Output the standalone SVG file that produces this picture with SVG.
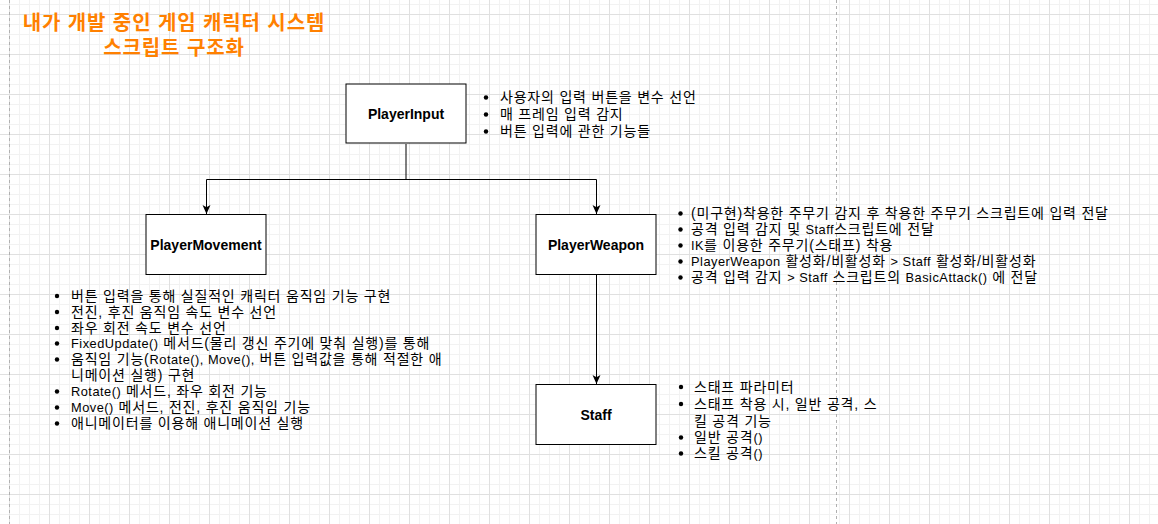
<svg xmlns="http://www.w3.org/2000/svg" width="1158" height="524" viewBox="0 0 1158 524">
<defs>
<pattern id="minor" patternUnits="userSpaceOnUse" x="9" y="14" width="10" height="10">
<path d="M0.5 0V10M0 0.5H10" stroke="#f2f2f2" stroke-width="1" fill="none"/>
</pattern>
<pattern id="major" patternUnits="userSpaceOnUse" x="9" y="14" width="40" height="40">
<path d="M0.5 0V40M0 0.5H40" stroke="#e0e0e0" stroke-width="1" fill="none"/>
</pattern>
<marker id="arr" viewBox="0 0 10 10" refX="10" refY="5" markerWidth="9" markerHeight="9" markerUnits="userSpaceOnUse" orient="auto">
<path d="M10 5L0 0.6L2.4 5L0 9.4Z" fill="#000"/>
</marker>
</defs>
<style>
.box{fill:#fff;stroke:#000;stroke-width:1}
.lbl{font-family:"Liberation Sans","Noto Sans CJK KR",sans-serif;font-size:14px;font-weight:bold;fill:#000;text-anchor:middle}
.txt{font-family:"Liberation Sans","Noto Sans CJK KR",sans-serif;font-size:14px;letter-spacing:0.8px;fill:#000}
.lat{font-size:12.8px;letter-spacing:0.5px}
.ttl{font-family:"Liberation Sans","Noto Sans CJK KR",sans-serif;font-size:20px;font-weight:bold;letter-spacing:0.9px;fill:#FF8000;text-anchor:middle}
.edge{stroke:#000;stroke-width:1;fill:none}
.page{stroke:#b0b0b0;stroke-width:1;stroke-dasharray:3 3}
</style>
<rect width="1158" height="524" fill="#fff"/>
<rect width="1158" height="524" fill="url(#minor)"/>
<rect width="1158" height="524" fill="url(#major)"/>
<line class="page" x1="9.5" y1="0" x2="9.5" y2="524"/>
<line class="page" x1="836.5" y1="0" x2="836.5" y2="524"/>

<g id="title">
<text class="ttl" x="174" y="29.5">내가 개발 중인 게임 캐릭터 시스템</text>
<text class="ttl" x="174" y="54.5">스크립트 구조화</text>
</g>

<g id="connectors">
<path class="edge" d="M406 144V179.5H206.5V214" marker-end="url(#arr)"/>
<path class="edge" d="M406 179.5H596.5V214" marker-end="url(#arr)"/>
<path class="edge" d="M596.5 274.5V384" marker-end="url(#arr)"/>
</g>

<g id="PlayerInput">
<rect class="box" x="346" y="84" width="120" height="59"/>
<text class="lbl" x="406" y="119">PlayerInput</text>
</g>
<g id="PlayerInput-notes">
<circle cx="486" cy="97.5" r="2.2"/><circle cx="486" cy="114.5" r="2.2"/><circle cx="486" cy="131.5" r="2.2"/>
<text class="txt" x="500" y="102">사용자의 입력 버튼을 변수 선언</text>
<text class="txt" x="500" y="119">매 프레임 입력 감지</text>
<text class="txt" x="500" y="136">버튼 입력에 관한 기능들</text>
</g>

<g id="PlayerMovement">
<rect class="box" x="146" y="214.5" width="120" height="60"/>
<text class="lbl" x="206" y="249.5">PlayerMovement</text>
</g>
<g id="PlayerMovement-notes">
<circle cx="57" cy="296" r="2.2"/><circle cx="57" cy="312" r="2.2"/><circle cx="57" cy="328" r="2.2"/>
<circle cx="57" cy="343.5" r="2.2"/><circle cx="57" cy="359.5" r="2.2"/><circle cx="57" cy="391.5" r="2.2"/>
<circle cx="57" cy="407.5" r="2.2"/><circle cx="57" cy="423.5" r="2.2"/>
<text class="txt" x="71" y="300.5">버튼 입력을 통해 실질적인 캐릭터 움직임 기능 구현</text>
<text class="txt" x="71" y="316.5">전진, 후진 움직임 속도 변수 선언</text>
<text class="txt" x="71" y="332.5">좌우 회전 속도 변수 선언</text>
<text class="txt" x="71" y="348"><tspan class="lat">FixedUpdate()</tspan> 메서드(물리 갱신 주기에 맞춰 실행)를 통해</text>
<text class="txt" x="71" y="364">움직임 기능(<tspan class="lat">Rotate(), Move(),</tspan> 버튼 입력값을 통해 적절한 애</text>
<text class="txt" x="71" y="380">니메이션 실행) 구현</text>
<text class="txt" x="71" y="396"><tspan class="lat">Rotate()</tspan> 메서드, 좌우 회전 기능</text>
<text class="txt" x="71" y="412"><tspan class="lat">Move()</tspan> 메서드, 전진, 후진 움직임 기능</text>
<text class="txt" x="71" y="428">애니메이터를 이용해 애니메이션 실행</text>
</g>

<g id="PlayerWeapon">
<rect class="box" x="536" y="214.5" width="120" height="60"/>
<text class="lbl" x="596" y="249.5">PlayerWeapon</text>
</g>
<g id="PlayerWeapon-notes">
<circle cx="680.5" cy="213.5" r="2.2"/><circle cx="680.5" cy="229.5" r="2.2"/><circle cx="680.5" cy="245.5" r="2.2"/>
<circle cx="680.5" cy="261.5" r="2.2"/><circle cx="680.5" cy="277.5" r="2.2"/>
<text class="txt" x="691" y="218">(미구현)착용한 주무기 감지 후 착용한 주무기 스크립트에 입력 전달</text>
<text class="txt" x="691" y="234">공격 입력 감지 및 <tspan class="lat">Staff</tspan>스크립트에 전달</text>
<text class="txt" x="691" y="250"><tspan class="lat">IK</tspan>를 이용한 주무기(스태프) 착용</text>
<text class="txt" x="691" y="266"><tspan class="lat">PlayerWeapon</tspan> 활성화/비활성화 <tspan class="lat">&gt; Staff</tspan> 활성화/비활성화</text>
<text class="txt" x="691" y="282">공격 입력 감지 <tspan class="lat">&gt; Staff</tspan> 스크립트의 <tspan class="lat">BasicAttack()</tspan> 에 전달</text>
</g>

<g id="Staff">
<rect class="box" x="536" y="384.5" width="120" height="60"/>
<text class="lbl" x="596" y="419.5">Staff</text>
</g>
<g id="Staff-notes">
<circle cx="681" cy="387" r="2.2"/><circle cx="681" cy="404" r="2.2"/><circle cx="681" cy="437.5" r="2.2"/><circle cx="681" cy="453.5" r="2.2"/>
<text class="txt" x="694" y="391.5">스태프 파라미터</text>
<text class="txt" x="694" y="408.5">스태프 착용 시, 일반 공격, 스</text>
<text class="txt" x="694" y="425.5">킬 공격 기능</text>
<text class="txt" x="694" y="442">일반 공격<tspan class="lat">()</tspan></text>
<text class="txt" x="694" y="458">스킬 공격<tspan class="lat">()</tspan></text>
</g>
</svg>
